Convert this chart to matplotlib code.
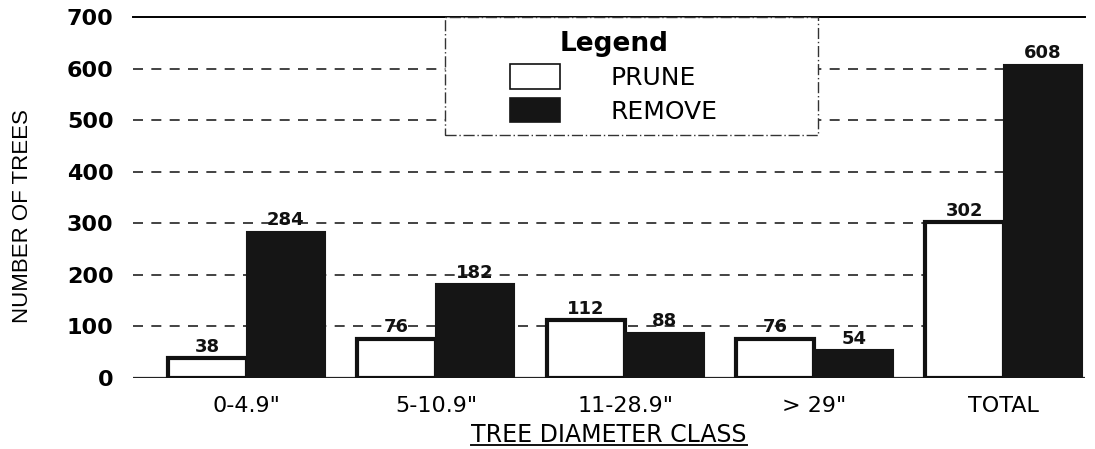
import matplotlib
matplotlib.use("Agg")
from matplotlib import pyplot as plt
from matplotlib.lines import Line2D
from matplotlib.patches import Rectangle
import numpy as np

# data
classes = ['0-4.9"', '5-10.9"', '11-28.9"', '> 29"', 'TOTAL']
prune = [38, 76, 112, 76, 302]
remove = [284, 182, 88, 54, 608]
yticks = [0, 100, 200, 300, 400, 500, 600, 700]

plt.rcParams['font.family'] = ['DejaVu Sans']

fig = plt.figure(figsize=(10.95, 4.49), dpi=100)
ax = fig.add_axes([0.1215, 0.158, 0.8695, 0.804])

x = np.arange(len(classes))
w = 0.415
ax.bar(x - w/2, prune, w, color='white', edgecolor='#111111', linewidth=3,
       label='PRUNE', zorder=3)
ax.bar(x + w/2, remove, w, color='#151515', edgecolor='#151515', linewidth=1.5,
       label='REMOVE', zorder=3)

for xi, v in zip(x - w/2, prune):
    ax.text(xi, v + 5, str(v), ha='center', va='bottom', fontsize=13,
            fontweight='bold', color='#111111', zorder=4)
for xi, v in zip(x + w/2, remove):
    ax.text(xi, v + 5, str(v), ha='center', va='bottom', fontsize=13,
            fontweight='bold', color='#111111', zorder=4)

ax.set_ylim(0, 700)
ax.set_xlim(-0.6, 4.43)
ax.set_yticks(yticks)
ax.set_yticklabels([str(t) for t in yticks], fontsize=16, fontweight='bold')
ax.set_xticks(x)
ax.set_xticklabels(classes, fontsize=16)
ax.tick_params(axis='y', length=0, pad=14)
ax.tick_params(axis='x', length=0, pad=13)

for s in ['left', 'right', 'bottom']:
    ax.spines[s].set_visible(False)
ax.spines['top'].set_linewidth(1.4)
ax.axhline(0, color='#222222', linewidth=1.6, zorder=2)
for t in yticks[1:-1]:
    ax.axhline(t, color='#222222', linewidth=1.2, linestyle=(0, (6, 5)), zorder=1)

ax.set_ylabel('NUMBER OF TREES', fontsize=16, family=['Liberation Sans Narrow', 'Liberation Sans'])
ax.yaxis.set_label_coords(-0.105, 0.45)

xl = ax.set_xlabel('TREE DIAMETER CLASS', fontsize=17, labelpad=5)

# legend box drawn separately so the entries can sit centred inside it
box = Rectangle((0.328, 0.673), 0.391, 0.327, transform=ax.transAxes,
                facecolor='white', edgecolor='#333333', linewidth=1.0,
                linestyle=(0, (8, 2, 1, 2)), zorder=4, clip_on=False)
ax.add_patch(box)

leg = ax.legend(bbox_to_anchor=(0.505, 0.962), loc='upper center',
                fontsize=18, title='Legend', frameon=False,
                handlelength=2.0, handleheight=1.15, handletextpad=2.0,
                borderpad=0, labelspacing=0.3, borderaxespad=0,
                alignment='center')
leg.get_title().set_fontsize(19)
leg.get_title().set_fontweight('bold')
leg.set_zorder(5)
for h in leg.legend_handles:
    h.set_linewidth(1.2)

# underline the x axis title
fig.canvas.draw()
bb = xl.get_window_extent().transformed(fig.transFigure.inverted())
fig.add_artist(Line2D([bb.x0, bb.x1], [bb.y0 + 0.004, bb.y0 + 0.004],
                      color='#111111', linewidth=1.4))

fig.savefig('out.png', dpi=100)
